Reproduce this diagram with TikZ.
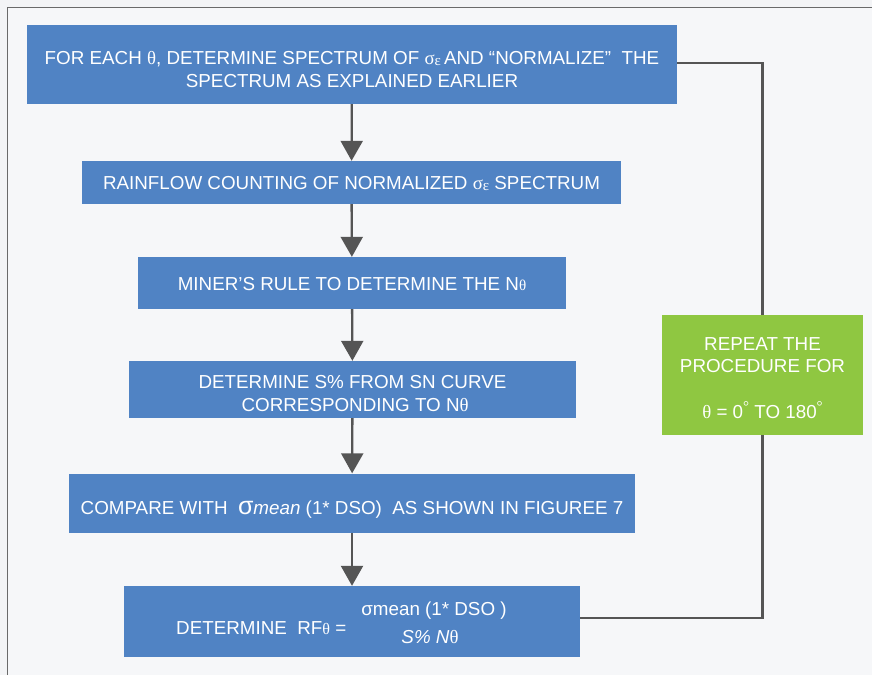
\documentclass[tikz,border=0pt]{standalone}
\usepackage{fontspec}
\setmainfont{Liberation Sans}
\newfontfamily\gk{Liberation Serif}
\usetikzlibrary{arrows.meta}
\definecolor{bluebox}{HTML}{5083C4}
\definecolor{greenbox}{HTML}{8FC741}
\definecolor{linegray}{HTML}{555555}
\definecolor{framegray}{HTML}{6A6A6A}
\definecolor{bgout}{HTML}{F3F4F6}
\definecolor{bgin}{HTML}{F6F7F9}
\newcommand{\gth}{{\gk θ}}
\newcommand{\sgeps}{{\gk σ\raisebox{-1pt}{\fontsize{15}{15}\selectfont ε}}}
\newcommand{\degsign}{\raisebox{7.5pt}{\fontsize{15}{15}\selectfont\gk °}}
\tikzset{
  bluebox/.style={fill=bluebox, inner sep=0pt},
  greenbox/.style={fill=greenbox, inner sep=0pt},
  txt/.style={text=white, inner sep=0pt, align=center, font=\fontsize{18.8}{23}\selectfont},
  flow/.style={draw=linegray, line width=2.3pt, -{Triangle[width=22pt,length=20pt]}},
  loop/.style={draw=linegray, line width=2.2pt}
}
\begin{document}
\begin{tikzpicture}[x=1pt,y=-1pt]
\fill[bgout] (0,0) rectangle (872,675);
\fill[bgin] (7.5,7.5) rectangle (872,675);
\useasboundingbox (0,0) rectangle (872,675);
\draw[framegray, line width=1.6pt] (7.5,675) -- (7.5,7.5) -- (872,7.5);

\node[bluebox, minimum width=650pt, minimum height=79pt] (b1) at (352,64.5) {};
\node[txt] (t1) at ([yshift=-5pt]b1.center)
  {FOR EACH \gth, DETERMINE SPECTRUM OF \sgeps\,AND “NORMALIZE”\ \ THE\\SPECTRUM AS EXPLAINED EARLIER};
\node[bluebox, minimum width=539pt, minimum height=43pt] (b2) at (351.5,182.5) {};
\node[txt] (t2) at ([yshift=-1pt]b2.center)
  {RAINFLOW COUNTING OF NORMALIZED \sgeps\ SPECTRUM};
\node[bluebox, minimum width=428pt, minimum height=52pt] (b3) at (352,283) {};
\node[txt] (t3) at ([yshift=-1pt]b3.center)
  {MINER’S RULE TO DETERMINE THE N{\gk\fontsize{15}{15}\selectfont θ}};
\node[bluebox, minimum width=447pt, minimum height=57pt] (b4) at (352.5,389.5) {};
\node[txt] (t4) at ([yshift=-4pt]b4.center)
  {DETERMINE S\% FROM SN CURVE\\ \ CORRESPONDING TO N{\gk θ}};
\node[bluebox, minimum width=566pt, minimum height=59pt] (b5) at (352,503) {};
\node[txt] (t5) at ([yshift=-7pt]b5.center)
  {COMPARE WITH\ \ {\fontsize{25}{25}\selectfont σ}\textit{mean} (1* DSO)\ \ AS SHOWN IN FIGUREE 7};
\node[bluebox, minimum width=456pt, minimum height=71pt] (b6) at (352,621.5) {};
\node[txt, anchor=west] (b6l) at (176,628.5) {DETERMINE\ \ RF{\gk\fontsize{16}{16}\selectfont θ} =};
\node[txt] (b6n) at (434,610.5) {σmean (1* DSO )};
\node[txt] (b6d) at (430,637) {\textit{S\% N}{\gk θ}};

\node[greenbox, minimum width=201pt, minimum height=120pt] (g) at (762.5,375) {};
\node[txt, font=\fontsize{18.8}{22}\selectfont] (tg) at ([yshift=-3.5pt]g.center)
  {REPEAT THE\\PROCEDURE FOR\\[24pt]\gth\ = 0\degsign\ TO 180\degsign};

\draw[flow] (b1) -- (b2);
\draw[flow] (b2) -- (b3);
\draw[flow] (b3) -- (b4);
\draw[flow] (b4) -- (b5);
\draw[flow] (b5) -- (b6);

\draw[loop] ([yshift=1.5pt]b1.east) -| (g.north);
\draw[loop] (g.south) |- ([yshift=3.5pt]b6.east);
\end{tikzpicture}
\end{document}
